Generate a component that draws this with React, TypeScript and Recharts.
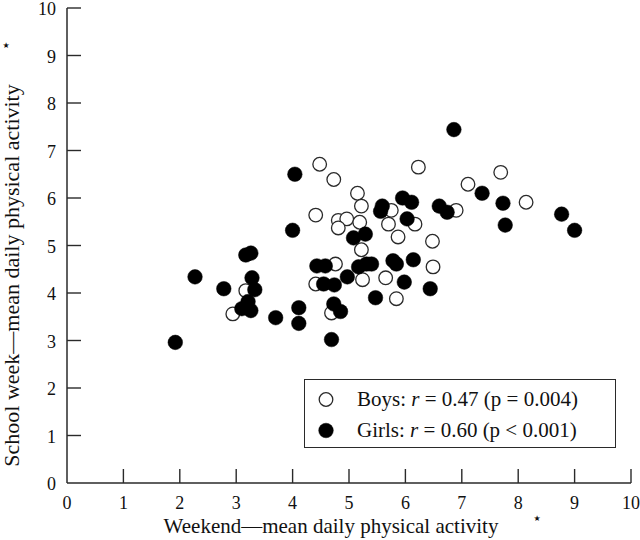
import React from 'react';
import { ScatterChart, Scatter, XAxis, YAxis, Legend } from 'recharts';

// ---- data ----
const boysX = [4.48, 4.73, 5.15, 5.22, 4.41, 4.81, 4.96, 4.81, 5.19, 5.7, 5.75, 5.87, 6.17, 6.23, 6.48, 7.11, 7.69, 8.14, 6.9, 4.76, 4.41, 5.24, 5.65, 5.84, 4.69, 5.22, 6.49, 3.17, 2.94];
const boysY = [6.71, 6.39, 6.1, 5.83, 5.64, 5.53, 5.56, 5.37, 5.49, 5.45, 5.74, 5.18, 5.45, 6.65, 5.09, 6.29, 6.54, 5.91, 5.74, 4.61, 4.19, 4.28, 4.32, 3.88, 3.58, 4.91, 4.55, 4.05, 3.56];

const girlsX = [1.92, 2.27, 2.78, 3.17, 3.26, 3.28, 3.33, 3.21, 3.1, 3.26, 3.7, 4.11, 4.11, 4.0, 4.04, 4.43, 4.58, 4.55, 4.74, 4.97, 5.17, 5.31, 5.4, 5.78, 5.84, 6.14, 5.98, 5.47, 6.44, 4.73, 4.85, 4.69, 5.08, 5.29, 5.59, 5.56, 5.95, 6.11, 6.03, 6.6, 6.74, 6.86, 7.36, 7.73, 7.77, 8.77, 9.0];
const girlsY = [2.96, 4.34, 4.09, 4.8, 4.84, 4.32, 4.07, 3.82, 3.67, 3.63, 3.48, 3.36, 3.69, 5.32, 6.5, 4.57, 4.57, 4.19, 4.17, 4.34, 4.55, 4.61, 4.61, 4.68, 4.61, 4.7, 4.23, 3.9, 4.09, 3.77, 3.61, 3.02, 5.16, 5.24, 5.83, 5.72, 6.0, 5.91, 5.56, 5.83, 5.7, 7.44, 6.1, 5.89, 5.43, 5.66, 5.32];

const xTicks = [0, 1, 2, 3, 4, 5, 6, 7, 8, 9, 10];
const yTicks = [0, 1, 2, 3, 4, 5, 6, 7, 8, 9, 10];

const seriesNames = ['Boys', 'Girls'];
const rValues = ['0.47', '0.60'];
const pTexts = ['(p = 0.004)', '(p < 0.001)'];

const xTitle = 'Weekend\u2014mean daily physical activity';
const yTitle = 'School week\u2014mean daily physical activity';
const footMark = '\u2605';

const boys = boysX.map((x, i) => ({ x, y: boysY[i] }));
const girls = girlsX.map((x, i) => ({ x, y: girlsY[i] }));

// ---- styles ----
const SERIF = "'Liberation Serif', 'Times New Roman', serif";
const INK = '#2a2a2a';
const X_MARGIN = 13;
const Y_MARGIN = 11;
const TICK_LEN = 14;

const OpenDot = (props: any) => (
  <circle cx={props.cx} cy={props.cy} r={6.8} fill="#fff" stroke={INK} strokeWidth={1.3} />
);
const FilledDot = (props: any) => (
  <circle cx={props.cx} cy={props.cy} r={7.3} fill="#000" stroke="#000" strokeWidth={0.5} />
);

const XTick = (props: any) => {
  const { x, y, payload } = props;
  const axisY = y - X_MARGIN;
  return (
    <g>
      {payload.value !== 0 && (
        <line x1={x} x2={x} y1={axisY} y2={axisY - TICK_LEN} stroke={INK} strokeWidth={1.4} />
      )}
      <text x={x} y={axisY + 26} textAnchor="middle" fontFamily={SERIF} fontSize={18} fill="#111">
        {payload.value}
      </text>
    </g>
  );
};

const YTick = (props: any) => {
  const { x, y, payload } = props;
  const axisX = x + Y_MARGIN;
  return (
    <g>
      {payload.value !== 0 && (
        <line x1={axisX} x2={axisX + TICK_LEN} y1={y} y2={y} stroke={INK} strokeWidth={1.4} />
      )}
      <text x={x} y={y + 7} textAnchor="end" fontFamily={SERIF} fontSize={18} fill="#111">
        {payload.value}
      </text>
    </g>
  );
};

const XTitle = (props: any) => {
  const vb = props.viewBox || {};
  const cx = vb.x + vb.width / 2 - 18;
  const base = vb.y + 50;
  return (
    <g>
      <text x={cx} y={base} textAnchor="middle" fontFamily={SERIF} fontSize={21} fill="#111">
        {xTitle}
      </text>
      <text x={vb.x + 470} y={base - 12} textAnchor="middle" fontFamily="'DejaVu Sans'" fontSize={8} fill="#111">
        {footMark}
      </text>
    </g>
  );
};

const YTitle = (props: any) => {
  const vb = props.viewBox || {};
  const tx = vb.x + 19;
  const ty = vb.y + vb.height / 2 + 30;
  return (
    <g>
      <text
        x={tx}
        y={ty}
        textAnchor="middle"
        fontFamily={SERIF}
        fontSize={22}
        fill="#111"
        transform={`rotate(-90, ${tx}, ${ty})`}
      >
        {yTitle}
      </text>
      <text x={vb.x + 6} y={vb.y + 40} textAnchor="middle" fontFamily="'DejaVu Sans'" fontSize={8} fill="#111">
        {footMark}
      </text>
    </g>
  );
};

const LegendBox = (props: any) => {
  const payload = props.payload || [];
  return (
    <div
      style={{
        boxSizing: 'border-box',
        width: 312,
        height: 69,
        border: `1.3px solid ${INK}`,
        background: '#fff',
        fontFamily: SERIF,
        fontSize: 21,
        color: '#111',
        paddingTop: 4,
      }}
    >
      {seriesNames.map((name, i) => {
        const entry = payload.find((p: any) => p.value === name);
        const filled = i === 1;
        return (
          <div key={name} style={{ display: 'flex', alignItems: 'center', height: 31, whiteSpace: 'nowrap' }}>
            <svg width={52} height={31} style={{ flex: 'none' }}>
              <circle
                cx={21}
                cy={15.5}
                r={filled ? 7.3 : 6.8}
                fill={filled ? '#000' : '#fff'}
                stroke={filled ? '#000' : INK}
                strokeWidth={filled ? 0.5 : 1.3}
              />
            </svg>
            <span>
              {entry ? entry.value : name}: <i>r</i> = {rValues[i]} {pTexts[i]}
            </span>
          </div>
        );
      })}
    </div>
  );
};

export default function App() {
  return (
    <div style={{ position: 'absolute', left: 0, top: 0, width: 640, height: 540, background: '#fff' }}>
      <ScatterChart width={640} height={540} margin={{ top: 8, right: 9, bottom: 0, left: 0 }}>
        <XAxis
          type="number"
          dataKey="x"
          domain={[0, 10]}
          ticks={xTicks}
          interval={0}
          height={57}
          tickSize={0}
          tickMargin={X_MARGIN}
          tickLine={false}
          tick={<XTick />}
          axisLine={{ stroke: INK, strokeWidth: 1.5 }}
          allowDataOverflow
          label={{ content: XTitle }}
        />
        <YAxis
          type="number"
          dataKey="y"
          domain={[0, 10]}
          ticks={yTicks}
          interval={0}
          width={67}
          tickSize={0}
          tickMargin={Y_MARGIN}
          tickLine={false}
          tick={<YTick />}
          axisLine={{ stroke: INK, strokeWidth: 1.5 }}
          allowDataOverflow
          label={{ content: YTitle }}
        />
        <Legend
          layout="horizontal"
          verticalAlign="middle"
          align="center"
          content={<LegendBox />}
          wrapperStyle={{ position: 'absolute', left: 304, top: 379, width: 312, height: 69 }}
        />
        <Scatter name="Boys" data={boys} shape={<OpenDot />} fill="#fff" isAnimationActive={false} />
        <Scatter name="Girls" data={girls} shape={<FilledDot />} fill="#000" isAnimationActive={false} />
      </ScatterChart>
    </div>
  );
}
